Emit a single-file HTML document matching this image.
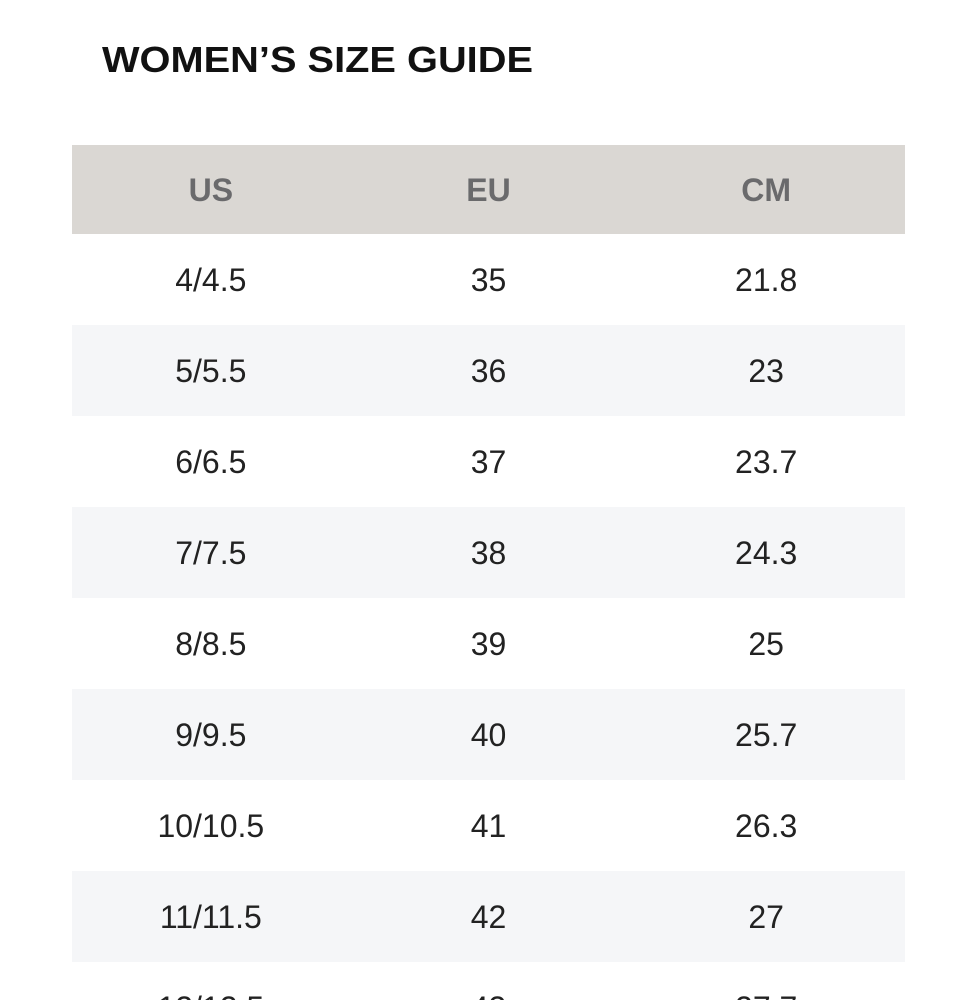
<!DOCTYPE html>
<html><head><meta charset="utf-8"><style>
html,body{margin:0;padding:0;background:#fff;width:960px;height:1000px;overflow:hidden}
svg{display:block}
</style></head><body>
<svg width="960" height="1000" viewBox="0 0 960 1000" font-family="Liberation Sans, sans-serif">
<text x="102" y="72" font-size="36" font-weight="bold" fill="#111" textLength="431" lengthAdjust="spacingAndGlyphs">WOMEN’S SIZE GUIDE</text>
<rect x="72" y="145" width="833" height="89" fill="#dad7d3"/>
<g id="hdr"></g>
<g id="rows"></g>
</svg>
<script>
const headers = ["US","EU","CM"];
const usSizes = ["4/4.5","5/5.5","6/6.5","7/7.5","8/8.5","9/9.5","10/10.5","11/11.5","12/12.5"];
const euSizes = ["35","36","37","38","39","40","41","42","43"];
const cmSizes = ["21.8","23","23.7","24.3","25","25.7","26.3","27","27.7"];
const NS="http://www.w3.org/2000/svg";
const colX=i=>72+833/3*(i+0.5);
const rowY=i=>234+91*i;
const hdr=document.getElementById('hdr'), rows=document.getElementById('rows');
headers.forEach((h,i)=>{
  const t=document.createElementNS(NS,'text');
  t.setAttribute('x',colX(i));t.setAttribute('y',201);
  t.setAttribute('text-anchor','middle');t.setAttribute('font-size','32');
  t.setAttribute('font-weight','bold');t.setAttribute('fill','#6a6a6c');
  
  
  t.textContent=h;hdr.appendChild(t);
});
usSizes.forEach((u,r)=>{
  const g=document.createElementNS(NS,'g');
  
  
  if(r%2===1){
    const bg=document.createElementNS(NS,'rect');
    bg.setAttribute('x',72);bg.setAttribute('y',rowY(r));
    bg.setAttribute('width',833);bg.setAttribute('height',91);
    bg.setAttribute('fill','#f5f6f8');
    
    
    g.appendChild(bg);
  }
  [u,euSizes[r],cmSizes[r]].forEach((v,c)=>{
    const t=document.createElementNS(NS,'text');
    t.setAttribute('x',colX(c));t.setAttribute('y',rowY(r)+57);
    t.setAttribute('text-anchor','middle');t.setAttribute('font-size','32');
    t.setAttribute('fill','#222');
    
    
    t.textContent=v;g.appendChild(t);
  });
  rows.appendChild(g);
});
</script>
</body></html>
